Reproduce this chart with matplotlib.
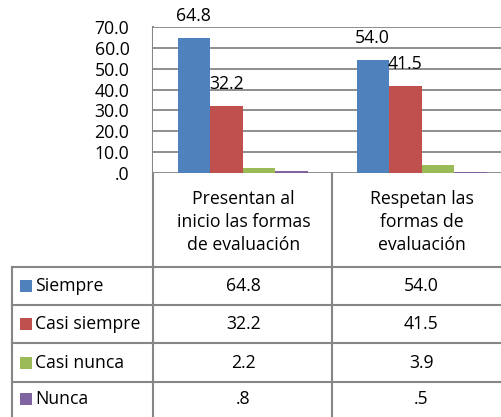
import matplotlib
matplotlib.use("Agg")
import matplotlib.pyplot as plt
from matplotlib.patches import Rectangle

categories = ["Presentan al\ninicio las formas\nde evaluación", "Respetan las\nformas de\nevaluación"]
series_names = ["Siempre", "Casi siempre", "Casi nunca", "Nunca"]
siempre = [64.8, 54.0]
casi_siempre = [32.2, 41.5]
casi_nunca = [2.2, 3.9]
nunca = [0.8, 0.5]
series_values = [siempre, casi_siempre, casi_nunca, nunca]
labeled_series = [0, 1]
colors = ["#4F81BD", "#C0504D", "#9BBB59", "#8064A2"]
yticks = [0, 10, 20, 30, 40, 50, 60, 70]

def fmt(v):
    s = f"{v:.1f}"
    if s.startswith("0"):
        s = s[1:]
    return s

plt.rcParams['font.family'] = ['Open Sans', 'DejaVu Sans']
FS = 12.7
GRAY = "#868686"

W, H = 501, 417
fig = plt.figure(figsize=(W / 100, H / 100), dpi=100)

# pixel geometry
x_left, x_right = 153, 511
y_top, y_zero = 27, 173
ax = fig.add_axes([x_left / W, (H - y_zero) / H, (x_right - x_left) / W, (y_zero - y_top) / H])
ax.set_xlim(-0.5, len(categories) - 0.5)
ax.set_ylim(0, 70)
bw = 32.5 / (x_right - x_left) * len(categories)
n = len(series_values)
for j, vals in enumerate(series_values):
    xs = [i + (j - (n - 1) / 2) * bw for i in range(len(categories))]
    ax.bar(xs, vals, width=bw, color=colors[j], zorder=3)
    if j in labeled_series:
        for x, v in zip(xs, vals):
            ax.annotate(fmt(v), (x, v), xytext=(0, 16.0), textcoords="offset points",
                        ha="center", va="center", fontsize=FS, annotation_clip=False)

ax.set_yticks(yticks)
ax.set_yticklabels([fmt(v) for v in yticks], fontsize=FS)
ax.tick_params(axis="y", length=0, pad=17)
ax.set_xticks([])
for s in ax.spines.values():
    s.set_visible(False)
ax.yaxis.grid(True, color=GRAY, linewidth=1.3, zorder=0)
ax.set_axisbelow(True)

# overlay for table in pixel coords
ov = fig.add_axes([0, 0, 1, 1], zorder=-1)
ov.set_xlim(0, W)
ov.set_ylim(H, 0)
ov.axis("off")
ov.patch.set_alpha(0)

lw = 1.5
ov.plot([x_left, x_left], [y_top, H + 2], color=GRAY, lw=lw)
ov.plot([332, 332], [y_zero, H + 2], color=GRAY, lw=lw)
ov.plot([12, 12], [267, H + 2], color=GRAY, lw=lw)
row_lines = [267, 305, 343, 382]
for y in row_lines:
    ov.plot([12, W + 2], [y, y], color=GRAY, lw=lw)

col_centers = [243.5, 421.5]
header_y = [199, 222, 245]
for cx, cat in zip(col_centers, categories):
    for k, line in enumerate(cat.split("\n")):
        ov.text(cx, header_y[k], line, ha="center", va="center", fontsize=FS)

row_centers = [286, 324, 362.5, 399]
for r, (name, vals) in enumerate(zip(series_names, series_values)):
    yc = row_centers[r]
    ov.add_patch(Rectangle((20, yc - 6), 12, 12, color=colors[r], lw=0))
    ov.text(35, yc, name, ha="left", va="center", fontsize=FS)
    for cx, v in zip(col_centers, vals):
        ov.text(cx, yc, fmt(v), ha="center", va="center", fontsize=FS)

fig.savefig("out.png", dpi=100)
